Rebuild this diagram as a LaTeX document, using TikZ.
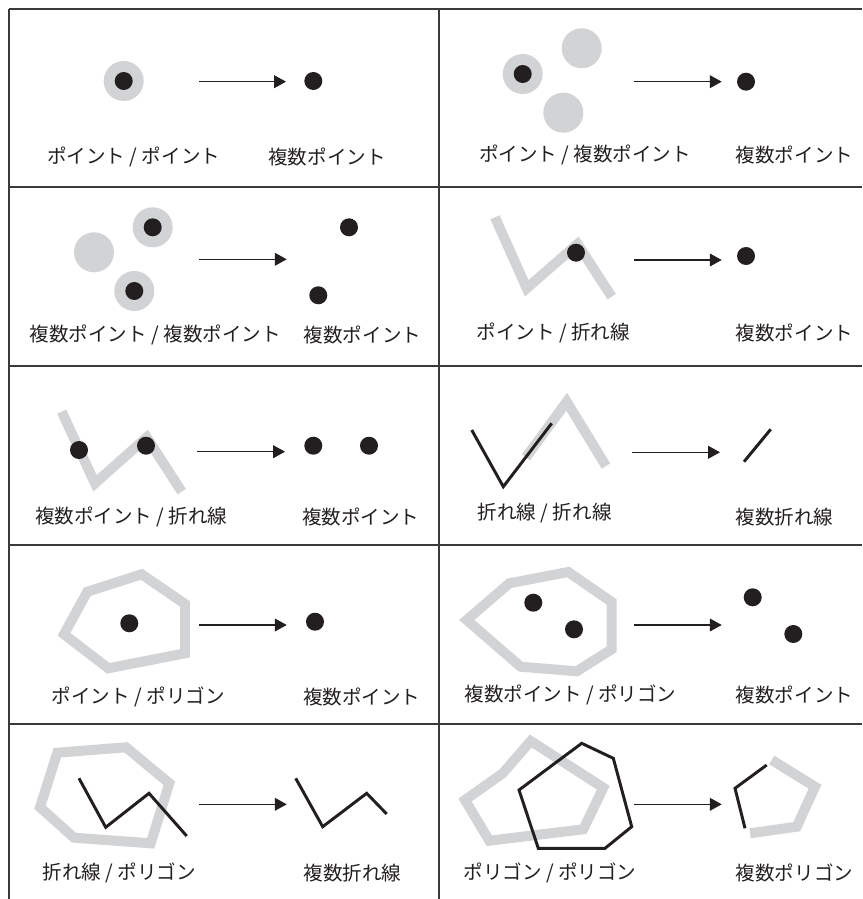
\documentclass[tikz,border=0pt]{standalone}
\usepackage{fontspec}
\newfontfamily\jpfont{Noto Sans CJK JP}
\usetikzlibrary{arrows.meta}
\definecolor{zonegrey}{HTML}{D1D3D4}
\definecolor{ink}{HTML}{231F20}
\definecolor{rule}{HTML}{3A3A3A}
\tikzset{
	blackdot/.style={circle, fill=ink, inner sep=0pt, minimum size=0.45cm},
	greydisc/.style={circle, fill=zonegrey, inner sep=0pt, minimum size=1cm},
	greyline/.style={draw=zonegrey, line width=7.1pt, line join=miter},
	inkline/.style={draw=ink, line width=2.1pt, line join=miter},
	conv/.style={draw=ink, line width=0.75pt, -{Triangle[length=8.5pt,width=9.2pt]}},
	lbl/.style={font=\jpfont\fontsize{13.9pt}{16pt}\selectfont, text=ink, inner sep=0pt}
}

\begin{document}
\begin{tikzpicture}[x=0.025cm, y=-0.025cm]
	\useasboundingbox (0,0) rectangle (862,899);
	\foreach \r in {9,187,366,545,724}
		\draw[rule, line width=1pt] (9,\r) -- (862,\r);
	\foreach \c in {9,439}
		\draw[rule, line width=1pt] (\c,9) -- (\c,899);
	\begin{scope}
		\node[greydisc] (z1) at (123.7,81) {};
		\node[blackdot] (p1) at (z1) {};
		\node[blackdot] (r1) at (313.3,81) {};
		\coordinate (s1) at (199,81.7);
		\coordinate (e1) at (286,81.7);
		\draw[conv] (s1) -- (e1);
		\node[lbl] (in1) at (133.7,156.7) {ポイント / ポイント};
		\node[lbl] (out1) at (327,156.7) {複数ポイント};
	\end{scope}
	\begin{scope}
		\node[greydisc] (z2a) at (522.7,74) {};
		\node[greydisc] (z2b) at (581.7,48.3) {};
		\node[greydisc] (z2c) at (563.3,112.7) {};
		\node[blackdot] (p2) at (z2a) {};
		\node[blackdot] (r2) at (746,81.7) {};
		\coordinate (s2) at (634,81.7);
		\coordinate (e2) at (721.7,81.7);
		\draw[conv] (s2) -- (e2);
		\node[lbl] (in2) at (585,155) {ポイント / 複数ポイント};
		\node[lbl] (out2) at (794.5,155) {複数ポイント};
	\end{scope}
	\begin{scope}
		\node[greydisc] (z3a) at (152.7,227.3) {};
		\node[greydisc] (z3b) at (94,252.3) {};
		\node[greydisc] (z3c) at (134.3,291) {};
		\node[blackdot] (p3a) at (z3a) {};
		\node[blackdot] (p3c) at (z3c) {};
		\node[blackdot] (r3a) at (349,227.3) {};
		\node[blackdot] (r3b) at (318.3,295.3) {};
		\coordinate (s3) at (199,259.3);
		\coordinate (e3) at (286.7,259.3);
		\draw[conv] (s3) -- (e3);
		\node[lbl] (in3) at (155.3,335) {複数ポイント / 複数ポイント};
		\node[lbl] (out3) at (362.5,335) {複数ポイント};
	\end{scope}
	\begin{scope}
		\draw[greyline] (495,217.3) -- (526.7,288.3) -- (577.5,244) -- (611.7,296.7);
		\node[blackdot] (p4) at (576,252.7) {};
		\node[blackdot] (r4) at (746,256) {};
		\coordinate (s4) at (634,260);
		\coordinate (e4) at (721.7,260);
		\draw[conv] (s4) -- (e4);
		\node[lbl] (in4) at (553.3,333.3) {ポイント / 折れ線};
		\node[lbl] (out4) at (794.5,333.3) {複数ポイント};
	\end{scope}
	\begin{scope}
		\draw[greyline] (61.7,411.7) -- (95,483.3) -- (146.7,437.3) -- (181.7,491.7);
		\node[blackdot] (p5a) at (79,450) {};
		\node[blackdot] (p5b) at (146,445.7) {};
		\node[blackdot] (r5a) at (313.3,445.7) {};
		\node[blackdot] (r5b) at (369,445.7) {};
		\coordinate (s5) at (197.3,451.7);
		\coordinate (e5) at (285,451.7);
		\draw[conv] (s5) -- (e5);
		\node[lbl] (in5) at (131.3,516.7) {複数ポイント / 折れ線};
		\node[lbl] (out5) at (360.8,516.7) {複数ポイント};
	\end{scope}
	\begin{scope}
		\draw[greyline] (526,457.3) -- (566.7,401.7) -- (606,466);
		\draw[inkline] (471.7,430) -- (503.3,486.7) -- (551.7,423.3);
		\draw[inkline] (744,461.7) -- (770.7,429.3);
		\coordinate (s6) at (632.3,452.3);
		\coordinate (e6) at (720,452.3);
		\draw[conv] (s6) -- (e6);
		\node[lbl] (in6) at (544.7,513.3) {折れ線 / 折れ線};
		\node[lbl] (out6) at (784.5,516.7) {複数折れ線};
	\end{scope}
	\begin{scope}
		\draw[greyline] (87.3,591.7) -- (141.7,574.3) -- (185,604) -- (185,653.3) -- (108.3,668.3) -- (64,634.3) -- cycle;
		\node[blackdot] (p7) at (129.3,623.3) {};
		\node[blackdot] (r7) at (315,621.7) {};
		\coordinate (s7) at (199,625);
		\coordinate (e7) at (286.7,625);
		\draw[conv] (s7) -- (e7);
		\node[lbl] (in7) at (138.3,696.7) {ポイント / ポリゴン};
		\node[lbl] (out7) at (361.7,696.7) {複数ポイント};
	\end{scope}
	\begin{scope}
		\draw[greyline] (509.3,583.3) -- (568.3,572) -- (611.7,602) -- (611.7,649.3) -- (576.7,671.3) -- (520.7,666.7) -- (466.7,620) -- cycle;
		\node[blackdot] (p8a) at (533.3,602.7) {};
		\node[blackdot] (p8b) at (574,629.3) {};
		\node[blackdot] (r8a) at (752.7,597.3) {};
		\node[blackdot] (r8b) at (793.3,634) {};
		\coordinate (s8) at (634,625);
		\coordinate (e8) at (721.7,625);
		\draw[conv] (s8) -- (e8);
		\node[lbl] (in8) at (570.5,695) {複数ポイント / ポリゴン};
		\node[lbl] (out8) at (794.5,695) {複数ポイント};
	\end{scope}
	\begin{scope}
		\draw[greyline] (57.3,752.7) -- (126,747.3) -- (169.3,783.3) -- (150.7,843.3) -- (74,837.7) -- (40,807.3) -- cycle;
		\draw[inkline] (79,778.3) -- (105.7,827.3) -- (149,793.3) -- (186.7,836);
		\draw[inkline] (295.7,778.3) -- (322.7,826.7) -- (366.7,793.3) -- (386.7,814);
		\coordinate (s9) at (199,804.3);
		\coordinate (e9) at (286.7,804.3);
		\draw[conv] (s9) -- (e9);
		\node[lbl] (in9) at (119.2,873.3) {折れ線 / ポリゴン};
		\node[lbl] (out9) at (352.5,873.3) {複数折れ線};
	\end{scope}
	\begin{scope}
		\draw[greyline] (530.7,741) -- (603.3,787.7) -- (583.3,829.3) -- (489.3,840.7) -- (465,800) -- (502.7,773.3) -- cycle;
		\draw[inkline] (581.7,743.3) -- (613.3,758.3) -- (631.7,826.7) -- (605,848.3) -- (538.3,848.3) -- (519,790) -- cycle;
		\draw[greyline] (771.7,760) -- (815,786.7) -- (796.7,826.7) -- (750,833.3);
		\draw[inkline] (766.7,765) -- (735,788.3) -- (745,828.3);
		\coordinate (s10) at (634,804.3);
		\coordinate (e10) at (721.7,804.3);
		\draw[conv] (s10) -- (e10);
		\node[lbl] (in10) at (550,873.3) {ポリゴン / ポリゴン};
		\node[lbl] (out10) at (794.5,873.3) {複数ポリゴン};
	\end{scope}
\end{tikzpicture}
\end{document}
